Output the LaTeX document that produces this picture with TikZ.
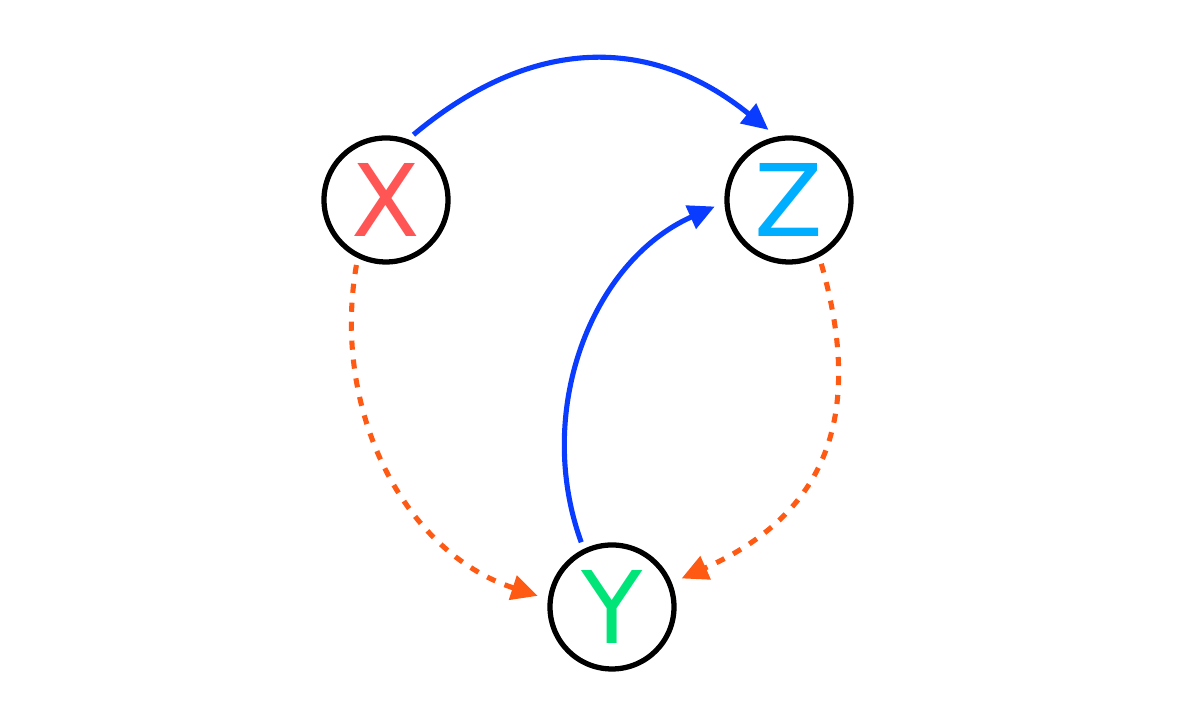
\documentclass[tikz,border=0pt]{standalone}
\usepackage{fontspec}
\setsansfont{DejaVu Sans}
\usetikzlibrary{arrows.meta}
\definecolor{xred}{RGB}{255,85,85}
\definecolor{zblue}{RGB}{0,174,255}
\definecolor{ygreen}{RGB}{0,228,120}
\definecolor{arrblue}{RGB}{10,60,255}
\definecolor{arrorange}{RGB}{255,90,20}
\tikzset{
    var/.style={draw=black, circle, line width=1.5pt, minimum size=1.24cm, inner sep=0pt,
        font=\sffamily\fontsize{28.5}{30}\selectfont},
    causal/.style={->, arrblue, line width=1.45pt, shorten <=2pt, shorten >=3pt},
    confound/.style={->, arrorange, line width=1.45pt, dash pattern=on 2.6pt off 2.8pt,
        shorten <=2pt, shorten >=3pt}
}

\begin{document}
\begin{tikzpicture}[>={Triangle[length=7.5pt,width=7pt]}]
    \useasboundingbox (0,0) rectangle (12,7.2);
    \node[var, text=xred] (X) at (3.86,5.2) {X};
    \node[var, text=zblue] (Z) at (7.89,5.2) {Z};
    \node[var, text=ygreen] (Y) at (6.12,1.13) {Y};
    % solid arrows
    \draw[causal] (X.70) to[out=40, in=141, looseness=1.12] (Z.101);
    \draw[causal] (Y.116) to[out=110, in=204] (Z.182);
    % dashed arrows
    \draw[confound] (X.244) to[out=260, in=162] (Y.173);
    \draw[confound] (Z.298) to[out=286, in=24, looseness=1.2] (Y.22);
\end{tikzpicture}
\end{document}
